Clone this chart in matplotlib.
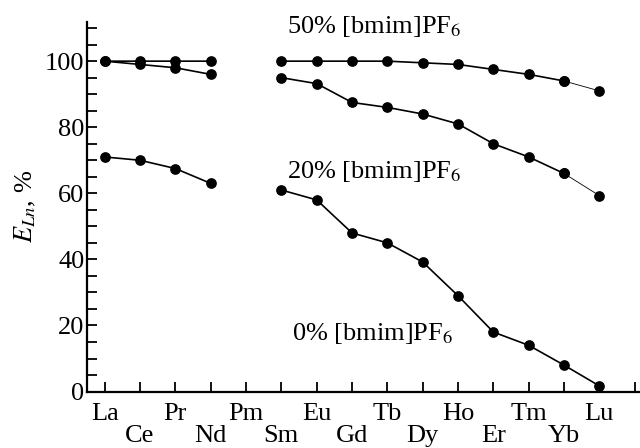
import numpy as np
import matplotlib
matplotlib.use("Agg")
import matplotlib.pyplot as plt
from matplotlib.ticker import MultipleLocator

plt.rcParams["font.family"] = ["Liberation Serif", "DejaVu Serif"]
plt.rcParams["mathtext.fontset"] = "stix"

elements = ["La", "Ce", "Pr", "Nd", "Pm", "Sm", "Eu", "Gd",
            "Tb", "Dy", "Ho", "Er", "Tm", "Yb", "Lu"]

# extraction values, Pm not measured
e50 = [100, 100, 100, 100, np.nan, 100, 100, 100, 100, 99.5, 99, 97.5, 96, 94, 91]
e20 = [100, 99, 98, 96, np.nan, 95, 93.2, 87.5, 86, 84, 81, 75, 71, 66, 59.3]
e0 = [71, 70, 67.5, 63, np.nan, 61, 58, 48, 45, 39.2, 29, 18, 14, 8, 1.7]

labels = [
    ("50% [bmim]PF$_6$", 6.15, 110.5),
    ("20% [bmim]PF$_6$", 6.15, 66.5),
    ("0% [bmim]PF$_6$", 6.3, 17.5),
]

x = np.arange(1, len(elements) + 1)

fig = plt.figure(figsize=(6.4, 4.48), dpi=100)
ax = fig.add_axes([0.136, 0.126, 0.864, 0.826])

for ys, thin_last in [(e50, True), (e20, True), (e0, False)]:
    ys = np.array(ys, dtype=float)
    if thin_last:
        ax.plot(x[:-1], ys[:-1], color="black", lw=1.2, marker="o", ms=6.7)
        ax.plot(x[-2:], ys[-2:], color="black", lw=0.6, marker="o", ms=6.7)
    else:
        ax.plot(x, ys, color="black", lw=1.2, marker="o", ms=6.7)

for txt, tx, ty in labels:
    ax.text(tx, ty, txt, fontsize=19, ha="left", va="center")

ax.set_xlim(0.5, 16.15)
ax.set_ylim(0, 112)

ax.set_xticks(np.arange(1, 17))
ticklabels = [el if i % 2 == 0 else "\n" + el for i, el in enumerate(elements)] + [""]
ax.set_xticklabels(ticklabels, linespacing=1.0)

ax.yaxis.set_major_locator(MultipleLocator(20))
ax.yaxis.set_minor_locator(MultipleLocator(5))
ax.set_yticks(np.arange(0, 101, 20))

ax.tick_params(axis="both", which="both", direction="in", length=7, width=1.3,
               labelsize=19, color="black")
ax.tick_params(axis="x", pad=8)
ax.tick_params(axis="y", pad=2)

ax.set_ylabel("$E_{Ln}$, %", fontsize=19, labelpad=5)

for side in ["top", "right"]:
    ax.spines[side].set_visible(False)
for side in ["left", "bottom"]:
    ax.spines[side].set_linewidth(1.6)

fig.savefig("out.png", dpi=100)
